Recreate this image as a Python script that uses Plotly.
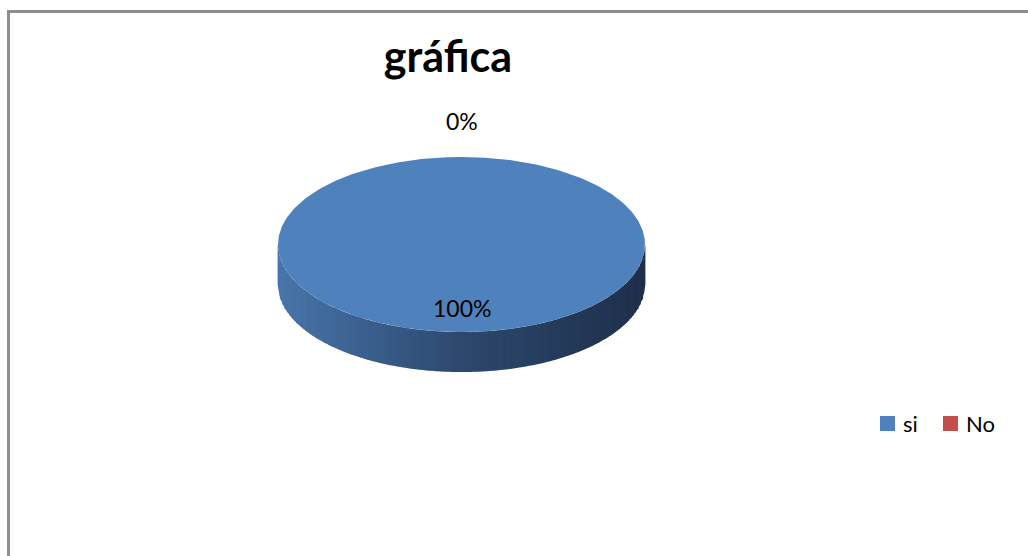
import numpy as np
import plotly.graph_objects as go

# Chart data
title = "gráfica"
categories = ["si", "No"]
values = [100, 0]
colors = ["#4F81BD", "#C0504D"]

W, H = 1028, 556
cx, cy = 461.5, 244.5      # centre of the pie's top face (px)
rx, ry = 183.5, 87.5       # radii of the tilted top face
depth = 40                 # thickness of the pie
FONT = "Lato, Open Sans, sans-serif"

total = float(sum(values))
fracs = [v / total for v in values]

fig = go.Figure()


def pt(theta, scale=1.0, dy=0.0):
    # angle measured clockwise from 12 o'clock
    return cx + scale * rx * np.sin(theta), cy - scale * ry * np.cos(theta) + dy


def lerp(c1, c2, t):
    return tuple(int(round(a + (b - a) * t)) for a, b in zip(c1, c2))


# Front wall of the pie, shaded from left (lit) to right (shadow)
side_left = (72, 117, 171)
side_mid = (45, 72, 110)
side_right = (30, 47, 74)
n = 160
xs = np.linspace(cx - rx, cx + rx, n + 1)
for i in range(n):
    x0, x1 = xs[i], xs[i + 1]
    xx = np.linspace(x0, x1, 4)
    u = np.clip((xx - cx) / rx, -1, 1)
    ytop = cy + ry * np.sqrt(1 - u ** 2)
    ybot = ytop + depth
    t = (0.5 * (x0 + x1) - (cx - rx)) / (2 * rx)
    col = lerp(side_left, side_mid, t / 0.5) if t < 0.5 else lerp(side_mid, side_right, (t - 0.5) / 0.5)
    px = list(xx) + list(xx[::-1]) + [xx[0]]
    py = list(ytop) + list(ybot[::-1]) + [ytop[0]]
    # widen each strip a touch so neighbours overlap without hairline gaps
    px = [p - 0.4 if k in (0, 7, 8) else (p + 0.4 if k in (3, 4) else p) for k, p in enumerate(px)]
    fig.add_trace(go.Scatter(x=px, y=py, mode="lines", fill="toself",
                             fillcolor="rgb(%d,%d,%d)" % col, line=dict(width=0),
                             hoverinfo="skip", showlegend=False))

# Top faces of the slices
start = 0.0
label_pos = []
for cat, f, col in zip(categories, fracs, colors):
    sweep = 2 * np.pi * f
    mid = start + sweep / 2
    if sweep > 0:
        th = np.linspace(start, start + sweep, 400)
        ex, ey = pt(th)
        if f < 1:
            ex = np.concatenate([[cx], ex, [cx]])
            ey = np.concatenate([[cy], ey, [cy]])
        fig.add_trace(go.Scatter(x=ex, y=ey, mode="lines", fill="toself",
                                 fillcolor=col, line=dict(width=0, color=col),
                                 hoverinfo="skip", showlegend=False))
    # data labels: inside for real slices, outside for an empty one
    scale = 0.72 if f > 0 else 1.41
    lx, ly = pt(mid, scale)
    label_pos.append((lx, ly, "%d%%" % round(f * 100)))
    start += sweep

for lx, ly, txt in label_pos:
    fig.add_annotation(x=lx, y=ly, text=txt, showarrow=False, xref="x", yref="y",
                       font=dict(family=FONT, size=23, color="#000000"))

# Legend: coloured squares followed by the category names
leg_y = 423.5
leg_x = [887.5, 950.5]
fig.add_trace(go.Scatter(x=leg_x, y=[leg_y] * len(leg_x), mode="markers",
                         marker=dict(symbol="square", size=15, color=colors, line=dict(width=0)),
                         hoverinfo="skip", showlegend=False))
for x, cat in zip(leg_x, categories):
    fig.add_annotation(x=x + 13, y=leg_y, text=cat, showarrow=False, xref="x", yref="y",
                       xanchor="left", yanchor="middle",
                       font=dict(family=FONT, size=22, color="#000000"))

# Chart frame (left and top edges)
fig.add_shape(type="path", xref="paper", yref="paper",
              path="M %f,0 L %f,%f L 1,%f" % (8.5 / W, 8.5 / W, 1 - 11.5 / H, 1 - 11.5 / H),
              line=dict(color="#8E8E8E", width=3))

fig.update_layout(
    width=W, height=H,
    margin=dict(l=0, r=0, t=0, b=0),
    paper_bgcolor="white", plot_bgcolor="white",
    title=dict(text="<b>%s</b>" % title, x=448 / W, y=1 - 57 / H, xanchor="center", yanchor="middle",
               font=dict(family=FONT, size=43, color="#000000")),
    xaxis=dict(range=[0, W], visible=False, fixedrange=True),
    yaxis=dict(range=[H, 0], visible=False, fixedrange=True),
    showlegend=False,
)

fig.write_html("out.html")
